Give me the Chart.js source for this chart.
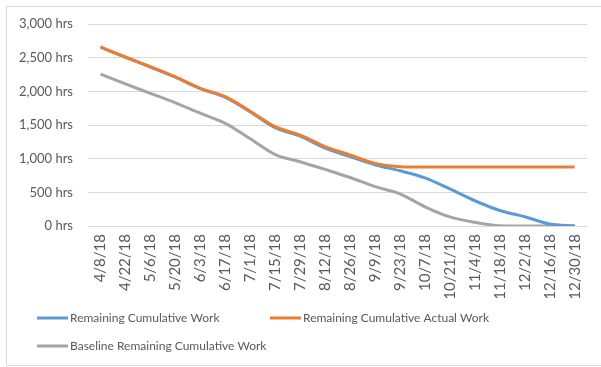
<!DOCTYPE html>
<html>
<head>
<meta charset="utf-8">
<script src="https://cdn.jsdelivr.net/npm/chart.js@4/dist/chart.umd.min.js"></script>
<style>
  html, body { margin: 0; padding: 0; background: #fff; }
  #wrap { position: relative; width: 601px; height: 367px; }
  #frame { position: absolute; left: 6px; top: 6px; width: 600px; height: 360px; border: 1px solid #d9d9d9; box-sizing: border-box; pointer-events: none; }
  canvas { position: absolute; left: 0; top: 0; }
</style>
</head>
<body>
<div id="wrap">
  <canvas id="c" width="601" height="367"></canvas>
  <div id="frame"></div>
</div>
<script>
const categories = ['4/8/18','4/22/18','5/6/18','5/20/18','6/3/18','6/17/18','7/1/18','7/15/18','7/29/18','8/12/18','8/26/18','9/9/18','9/23/18','10/7/18','10/21/18','11/4/18','11/18/18','12/2/18','12/16/18','12/30/18'];
const seriesNames = ['Remaining Cumulative Work', 'Remaining Cumulative Actual Work', 'Baseline Remaining Cumulative Work'];
const remainingWork = [2655, 2505, 2360, 2210, 2040, 1910, 1695, 1460, 1335, 1155, 1030, 910, 820, 715, 550, 375, 230, 138, 30, 3];
const remainingActual = [2660, 2510, 2365, 2215, 2045, 1920, 1705, 1475, 1350, 1180, 1055, 930, 880, 875, 875, 875, 875, 875, 875, 875];
const baselineRemaining = [2255, 2110, 1970, 1830, 1675, 1525, 1295, 1060, 955, 840, 720, 585, 478, 285, 135, 55, 5, 0, 0, 0];
const yTickValues = [0, 500, 1000, 1500, 2000, 2500, 3000];
const yTickLabels = ['0 hrs', '500 hrs', '1,000 hrs', '1,500 hrs', '2,000 hrs', '2,500 hrs', '3,000 hrs'];

const FONT = 'Lato';
const TEXT = '#595959';

const legendLayout = [
  { x: 37, y: 318 },
  { x: 270, y: 318 },
  { x: 37, y: 346 }
];

const legendPlugin = {
  id: 'fixedLegend',
  afterDraw(chart) {
    const ctx = chart.ctx;
    ctx.save();
    ctx.font = '12px ' + FONT;
    ctx.textBaseline = 'middle';
    ctx.textAlign = 'left';
    chart.data.datasets.forEach((ds, i) => {
      const p = legendLayout[i];
      ctx.strokeStyle = ds.borderColor;
      ctx.lineWidth = 3;
      ctx.beginPath();
      ctx.moveTo(p.x, p.y);
      ctx.lineTo(p.x + 31, p.y);
      ctx.stroke();
      ctx.fillStyle = TEXT;
      ctx.fillText(ds.label, p.x + 33, p.y);
    });
    ctx.restore();
  }
};

const ds = (label, data, color, order) => ({
  label, data, borderColor: color, backgroundColor: color,
  borderWidth: 3, pointRadius: 0, fill: false,
  cubicInterpolationMode: 'monotone', order
});

new Chart(document.getElementById('c'), {
  type: 'line',
  data: {
    labels: categories,
    datasets: [
      ds(seriesNames[0], remainingWork, '#5B9BD5', 1),
      ds(seriesNames[1], remainingActual, '#ED7D31', 0),
      ds(seriesNames[2], baselineRemaining, '#A5A5A5', 2)
    ]
  },
  options: {
    responsive: false,
    animation: false,
    devicePixelRatio: 1,
    layout: { padding: { left: 0, right: 11, top: 24, bottom: 69 } },
    plugins: { legend: { display: false }, tooltip: { enabled: false } },
    scales: {
      x: {
        offset: true,
        grid: { display: false, drawTicks: false },
        border: { display: false },
        ticks: {
          autoSkip: false, minRotation: 90, maxRotation: 90, padding: 8,
          color: TEXT, font: { family: FONT, size: 15 }
        },
        afterFit(scale) { scale.height = 72; }
      },
      y: {
        min: 0, max: 3000,
        afterBuildTicks(scale) { scale.ticks = yTickValues.map(v => ({ value: v })); },
        grid: { color: '#d9d9d9', lineWidth: 1, drawTicks: false },
        border: { display: false },
        ticks: {
          padding: 15, color: TEXT, font: { family: FONT, size: 13 },
          callback(v) { return yTickLabels[yTickValues.indexOf(v)]; }
        },
        afterFit(scale) { scale.width = 88; }
      }
    }
  },
  plugins: [legendPlugin]
});
</script>
</body>
</html>
